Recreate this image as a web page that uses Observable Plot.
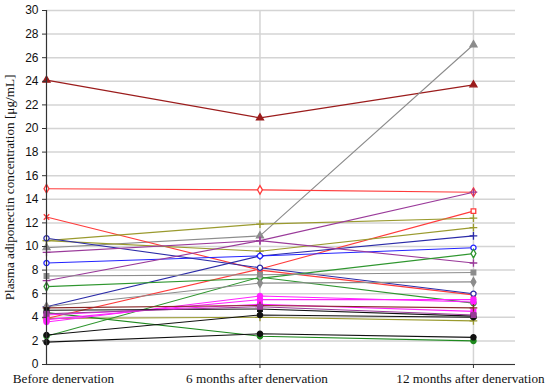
<!DOCTYPE html>
<html>
<head>
<meta charset="utf-8">
<script src="https://cdn.jsdelivr.net/npm/d3@7"></script>
<script src="https://cdn.jsdelivr.net/npm/@observablehq/plot@0.6"></script>
<style>
  html, body { margin: 0; padding: 0; background: #fff; }
</style>
</head>
<body>
<div id="chart"></div>
<script>
// Time points (x categories)
const timePoints = ["Before denervation", "6 months after denervation", "12 months after denervation"];
// Y tick values
const yTicks = [0, 2, 4, 6, 8, 10, 12, 14, 16, 18, 20, 22, 24, 26, 28, 30];

// Plasma adiponectin [µg/mL] per patient at each time point
const before       = [24.1,  9.9, 14.9,  3.9, 12.5, 10.5, 10.5, 3.9,  4.9, 8.6, 10.7,  7.1, 9.5, 6.6, 2.4, 4.4, 7.5, 4.9, 3.6, 4.2, 3.8, 4.8, 1.9, 2.5, 4.6, 4.3];
const sixMonths    = [20.9, 10.9, 14.8,  8.1,  8.0, 11.9,  9.6, 4.0,  9.2, 9.2,  8.2, 10.5, 10.5, 7.3, 7.4, 2.4, 7.6, 6.9, 5.8, 5.1, 5.5, 5.0, 2.6, 4.2, 4.7, 4.9];
const twelveMonths = [23.7, 27.1, 14.6, 13.0,  5.9, 12.4, 11.6, 3.7, 10.9, 9.9,  6.0, 14.6, 8.6, 9.4, 5.2, 2.0, 7.8, 7.0, 5.3, 4.5, 5.5, 4.8, 2.3, 4.0, 4.1, 4.2];

// Styling per patient line
const patientColors = ["#9b1c1c", "#8c8c8c", "#ff3b3b", "#ff3b3b", "#ff3b3b", "#9a9a2e", "#9a9a2e", "#9a9a2e", "#2b2ba8", "#2323ff", "#2b2ba8", "#9a3a9a", "#9a3a9a", "#2f962f", "#2f962f", "#1f8a1f", "#8c8c8c", "#8c8c8c", "#ff22ff", "#ff22ff", "#ff22ff", "#8b2a2a", "#111111", "#111111", "#111111", "#9a3a9a"];
const patientSymbols = ["triangle", "triangle", "diamond", "square", "times", "plus", "plus", "plus", "plus", "circle", "circle", "plus", "plus", "diamond", "circle", "circle", "square", "diamond", "circle", "square", "circle", "plus", "circle", "circle", "square", "square"];
const patientOpen = [false, false, true, true, false, false, false, false, false, true, true, false, false, true, true, false, false, false, false, false, false, false, false, false, false, false];

const rows = [];
before.forEach((_, i) => {
  [before[i], sixMonths[i], twelveMonths[i]].forEach((v, t) => {
    rows.push({patient: i, t, value: v, color: patientColors[i], symbol: patientSymbols[i], open: patientOpen[i]});
  });
});

const serif = "'Liberation Serif', 'DejaVu Serif', serif";
const sans = "'Liberation Sans', Arial, sans-serif";

const plot = Plot.plot({
  width: 550,
  height: 391,
  marginTop: 10,
  marginBottom: 27,
  marginLeft: 46,
  marginRight: 35,
  style: {fontFamily: sans, fontSize: "12px", color: "#222", background: "#fff"},
  x: {type: "linear", domain: [0, 2.197], axis: null},
  y: {type: "linear", domain: [0, 30], axis: null},
  color: {type: "identity"},
  marks: [
    Plot.gridY(yTicks, {stroke: "#d4d4d4", strokeOpacity: 1, strokeWidth: 1.5}),
    Plot.ruleX([1, 2], {y1: 0, y2: 30, stroke: "#d4d4d4", strokeOpacity: 1, strokeWidth: 1.5}),
    Plot.line(rows, {x: "t", y: "value", z: "patient", stroke: "color", strokeWidth: 1.1}),
    Plot.dot(rows, {x: "t", y: "value", symbol: "symbol", r: 2.6, stroke: "color", strokeWidth: 1.3,
      fill: d => d.open ? "#fff" : d.color}),
    Plot.ruleX([0], {y1: 0, y2: 30, stroke: "#333", strokeWidth: 1.2}),
    Plot.ruleY([0], {x1: 0, x2: 2.197, stroke: "#333", strokeWidth: 1.2}),
    Plot.axisY(yTicks, {tickSize: 4, tickPadding: 4, fontSize: 12, fontFamily: sans, stroke: "#333", label: null, fill: "#111"}),
    Plot.ruleX([1, 2], {y1: 0, y2: 0, insetBottom: -4, stroke: "#333", strokeWidth: 1}),
    Plot.text([timePoints[0]], {x: 0, frameAnchor: "bottom", dy: 18, dx: 17, text: d => d, fontFamily: serif, fontSize: 13.2, fill: "#111"}),
    Plot.text([1, 2], {x: d => d, frameAnchor: "bottom", dy: 18, dx: -3, text: d => timePoints[d], fontFamily: serif, fontSize: 13.2, fill: "#111"}),
    Plot.text(["Plasma adiponectin concentration [\u03bcg/mL]"], {frameAnchor: "left", textAnchor: "middle", dx: -37, rotate: -90, text: d => d, fontFamily: serif, fontSize: 13.2, fill: "#111"})
  ]
});
document.getElementById("chart").appendChild(plot);
</script>
</body>
</html>
